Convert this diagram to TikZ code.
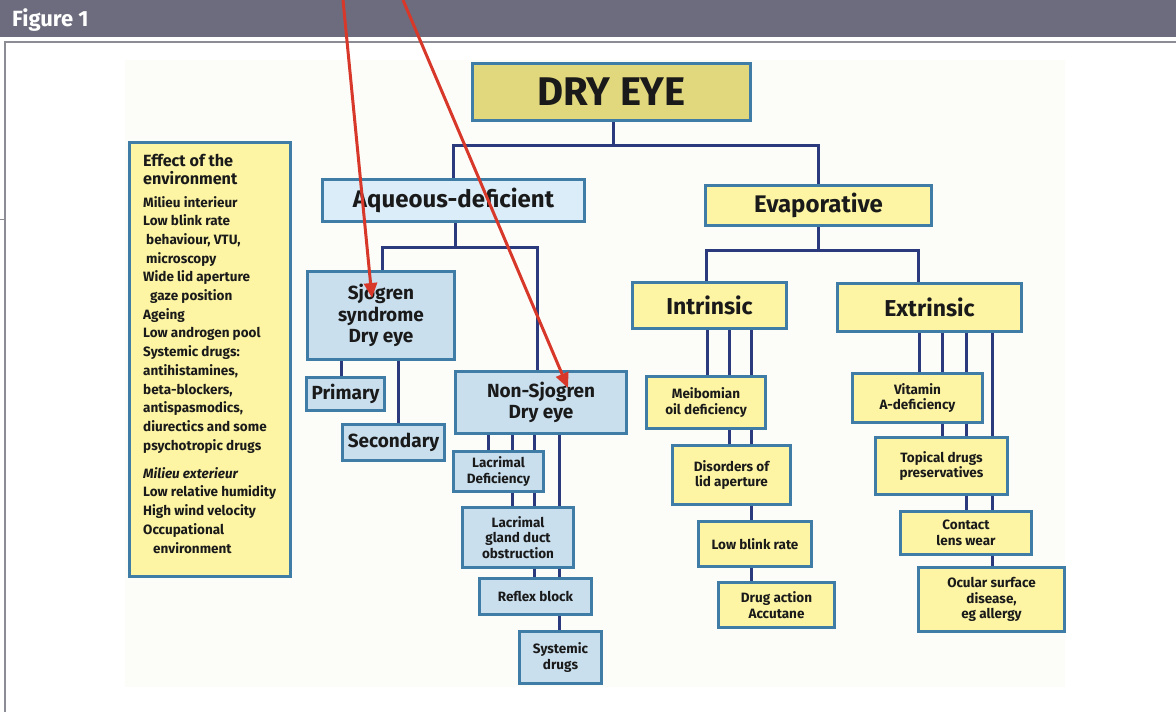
\documentclass[tikz,border=0pt]{standalone}
\usepackage{fontspec}
\setmainfont{Fira Sans}
\usetikzlibrary{arrows.meta}
\definecolor{hdr}{HTML}{6D6C7E}
\definecolor{frm}{HTML}{8C8C94}
\definecolor{bord}{HTML}{3F7CA6}
\definecolor{conn}{HTML}{2B3A7C}
\definecolor{dryfill}{HTML}{E1D87D}
\definecolor{yel}{HTML}{FDF5A4}
\definecolor{lblue}{HTML}{DAEDF9}
\definecolor{mblue}{HTML}{C9DFEE}
\definecolor{redar}{HTML}{D8382A}
\definecolor{paper}{HTML}{FCFCF9}
\definecolor{ink}{HTML}{1A1A1A}
\pgfdeclarelayer{back}
\pgfdeclarelayer{wires}
\pgfsetlayers{back,wires,main}
\newcommand\bx[7]{%
  \pgfmathsetmacro\bxw{#4-#2-2.6}\pgfmathsetmacro\bxh{#5-#3-2.6}%
  \node[#6, minimum width=\bxw pt, minimum height=\bxh pt] (#1) at ({(#2+#4)/2},{(#3+#5)/2}) {#7};}
\begin{document}
\begin{tikzpicture}[x=1pt,y=-1pt,
  box/.style={draw=bord, line width=2.6pt, inner sep=1pt, align=center, text=ink},
  bigf/.style={font=\bfseries\fontsize{24}{26}\selectfont},
  bigg/.style={font=\bfseries\fontsize{23}{26}\selectfont},
  midf/.style={font=\bfseries\fontsize{19}{21.5}\selectfont},
  smf/.style={font=\bfseries\fontsize{13.5}{15.5}\selectfont},
  yb/.style={box, fill=yel},
  bb/.style={box, fill=mblue},
  ab/.style={box, fill=lblue},
  wire/.style={draw=conn, line width=3pt},
  redarrow/.style={draw=redar, line width=3pt, -{Triangle[length=15pt,width=13pt]}},
  envl/.style={anchor=base west, inner sep=0pt, text=ink, font=\bfseries\fontsize{13.5}{15}\selectfont}
]
\useasboundingbox (0,0) rectangle (1176,712);
\begin{pgfonlayer}{back}
  \fill[white] (0,0) rectangle (1176,712);
  \fill[paper] (125,60) rectangle (1065,687);
  \fill[hdr] (0,0) rectangle (1176,37);
  \draw[frm, line width=1.6pt] (5,712) -- (5,42) -- (1176,42);
  \draw[frm, line width=0.8pt] (0,219) -- (6,219);
\end{pgfonlayer}
\node[anchor=base west, inner sep=0pt, text=white, font=\bfseries\fontsize{22}{24}\selectfont] (fig) at (12,27) {Figure 1};

% main boxes
\bx{dry}{471}{62}{752}{122}{box, fill=dryfill, font=\bfseries\fontsize{40}{40}\selectfont}{DRY EYE}
\bx{aq}{321}{178}{586}{223}{ab, bigf}{Aqueous-deficient}
\bx{ev}{704}{184}{933}{227}{yb, bigf}{Evaporative}
\bx{sj}{306}{270}{456}{361}{bb, midf}{Sjogren\\syndrome\\Dry eye}
\bx{pri}{305}{376}{386}{412}{bb, midf}{Primary}
\bx{sec}{341}{423}{446}{462}{bb, midf}{Secondary}
\bx{ns}{454}{370}{628}{435}{bb, midf}{Non-Sjogren\\Dry eye}
\bx{ld}{452}{450}{545}{493}{bb, smf}{Lacrimal\\Deficiency}
\bx{gd}{461}{506}{575}{569}{bb, smf}{Lacrimal\\gland duct\\obstruction}
\bx{rb}{478}{577}{593}{616}{bb, smf}{Reflex block}
\bx{sd}{518}{630}{603}{685}{bb, smf}{Systemic\\drugs}
\bx{in}{631}{281}{788}{330}{yb, bigg}{Intrinsic}
\bx{ex}{836}{282}{1023}{333}{yb, bigg}{Extrinsic}
\bx{mo}{645}{375}{767}{430}{yb, smf}{Meibomian\\oil deficiency}
\bx{dl}{671}{444}{792}{506}{yb, smf}{Disorders of\\lid aperture}
\bx{lb}{697}{520}{813}{568}{yb, smf}{Low blink rate}
\bx{da}{717}{581}{836}{629}{yb, smf}{Drug action\\Accutane}
\bx{va}{851}{372}{984}{424}{yb, smf}{Vitamin\\A-deficiency}
\bx{td}{874}{436}{1009}{496}{yb, smf}{Topical drugs\\preservatives}
\bx{cl}{899}{510}{1033}{556}{yb, smf}{Contact\\lens wear}
\bx{os}{917}{566}{1066}{633}{yb, smf}{Ocular surface\\disease,\\eg allergy}

% environment box
\bx{env}{128}{141}{292}{578}{box, fill=yel}{}
\node[envl, font=\bfseries\fontsize{16.2}{18}\selectfont] (envh1) at (143,166) {Effect of the};
\node[envl, font=\bfseries\fontsize{16.2}{18}\selectfont] (envh2) at (143,184) {environment};
\foreach \t [count=\i] in {Milieu interieur, Low blink rate, {\hspace*{3pt}behaviour, VTU,}, \hspace*{3pt}microscopy, Wide lid aperture, \hspace*{7pt}gaze position, Ageing, Low androgen pool, Systemic drugs:, {antihistamines,}, {beta-blockers,}, {antispasmodics,}, diurectics and some, psychotropic drugs}
  \node[envl] (envl\i) at (143,{207+(\i-1)*18.7}) {\t};
\node[envl, font=\bfseries\itshape\fontsize{13.5}{15}\selectfont] (envx0) at (143,478) {Milieu exterieur};
\foreach \t [count=\i] in {Low relative humidity, High wind velocity, Occupational, \hspace*{10pt}environment}
  \node[envl] (envx\i) at (143,{478+\i*18.75}) {\t};

% helper coordinates
\coordinate (j1) at (613,145);
\coordinate (j2) at (455,247);
\coordinate (j3) at (818,250);
\foreach \xx in {341,382,398,488,512,534,537,559,706,707,729,751,918,919,942,966,992}
  \coordinate (x\xx) at (\xx,0);

\begin{pgfonlayer}{wires}
  \draw[wire] (dry.south -| j1) -- (j1);
  \draw[wire] (j1) -| (aq.north);
  \draw[wire] (j1) -| (ev.north);
  \draw[wire] (aq.south -| j2) -- (j2);
  \draw[wire] (j2) -| (sj.north -| x382);
  \draw[wire] (j2) -| (ns.north -| x537);
  \draw[wire] (sj.south -| x341) -- (pri.north -| x341);
  \draw[wire] (sj.south -| x398) -- (sec.north -| x398);
  \draw[wire] (ns.south -| x488) -- (ld.north -| x488);
  \draw[wire] (ns.south -| x512) -- (gd.north -| x512);
  \draw[wire] (ns.south -| x534) -- (rb.north -| x534);
  \draw[wire] (ns.south -| x559) -- (sd.north -| x559);
  \draw[wire] (ev.south -| j3) -- (j3);
  \draw[wire] (j3) -| (in.north -| x706);
  \draw[wire] (j3) -| (ex.north -| x918);
  \draw[wire] (in.south -| x707) -- (mo.north -| x707);
  \draw[wire] (in.south -| x729) -- (dl.north -| x729);
  \draw[wire] (in.south -| x751) -- (da.north -| x751);
  \draw[wire] (ex.south -| x919) -- (va.north -| x919);
  \draw[wire] (ex.south -| x942) -- (td.north -| x942);
  \draw[wire] (ex.south -| x966) -- (cl.north -| x966);
  \draw[wire] (ex.south -| x992) -- (os.north -| x992);
\end{pgfonlayer}

% red arrows
\coordinate (r1s) at (343,0);
\coordinate (r1e) at (372,298);
\coordinate (r2s) at (403,0);
\coordinate (r2e) at (568,388);
\draw[redarrow] (r1s) -- (r1e);
\draw[redarrow] (r2s) -- (r2e);
\end{tikzpicture}
\end{document}
